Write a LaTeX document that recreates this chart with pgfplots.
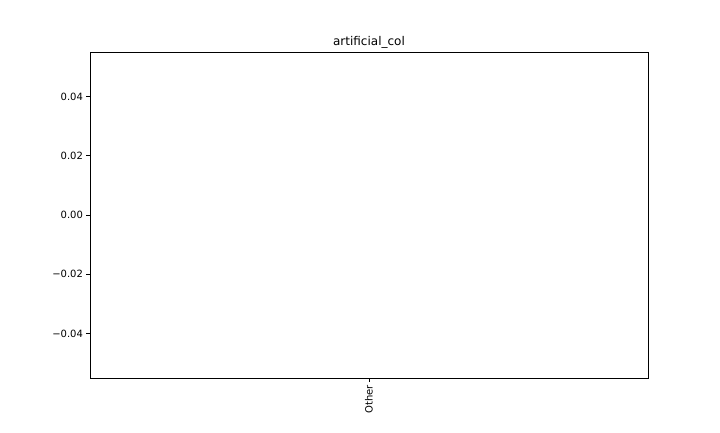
\documentclass[border=0pt]{standalone}
\usepackage{fontspec}
\setmainfont{DejaVu Sans}
\usepackage{pgfplots}
\pgfplotsset{compat=1.18}
\begin{document}
\begin{tikzpicture}[x=1pt,y=1pt]
\path[use as bounding box] (-90,-54) rectangle (630,378);
\begin{axis}[
  at={(0,0)}, anchor=south west,
  scale only axis, width=558pt, height=326pt,
  xmin=-0.44, xmax=0.44, ymin=-0.055, ymax=0.055,
  scaled y ticks=false,
  xtick={0}, xticklabels={Other},
  ytick={-0.04,-0.02,0,0.02,0.04},
  yticklabels={−0.04,−0.02,0.00,0.02,0.04},
  x tick label style={rotate=90, anchor=east, font=\fontsize{10}{12}\selectfont},
  y tick label style={font=\fontsize{10}{12}\selectfont},
  tick align=outside, major tick length=3.5pt,
  xtick pos=bottom, ytick pos=left,
  every tick/.style={black, line width=0.8pt},
  axis line style={line width=0.8pt},
  title={artificial\_col},
  title style={at={(0.5,1)}, anchor=base, yshift=1pt, inner sep=0pt, font=\fontsize{12}{14}\selectfont},
]
\addplot[ybar, bar width=0.8, fill=none, draw=none] coordinates {(0,0)};
\end{axis}
\end{tikzpicture}
\end{document}
